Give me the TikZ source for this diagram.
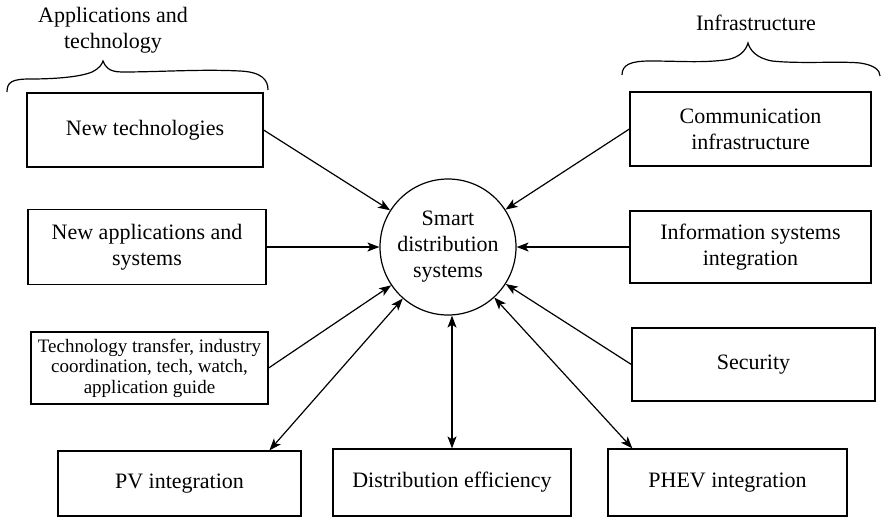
\documentclass[tikz,border=0pt]{standalone}
\usepackage{fontspec}
\setmainfont{Liberation Serif}
\usetikzlibrary{arrows.meta,calc}
\begin{document}
\begin{tikzpicture}[x=1pt,y=-1pt,
  mainfont/.style={font=\fontsize{22}{26}\selectfont},
  box/.style={draw,line width=1.2pt,align=center,inner sep=2pt,mainfont},
  smallbox/.style={draw,line width=1.2pt,align=center,inner sep=2pt,font=\fontsize{19}{20.5}\selectfont},
  hub/.style={draw,circle,line width=1.2pt,minimum size=136pt,inner sep=0pt,align=center,mainfont},
  lbl/.style={align=center,inner sep=0pt,mainfont},
  arr/.style={line width=1.2pt,-{Stealth[length=12pt,width=9pt,inset=3pt]}},
  darr/.style={line width=1.2pt,{Stealth[length=12pt,width=9pt,inset=3pt]}-{Stealth[length=12pt,width=9pt,inset=3pt]}},
  brace/.style={line width=1.2pt}
]
\useasboundingbox (0,0) rectangle (882,523);

% titles
\node[lbl] (apptitle) at (113,30.5) {Applications and\\technology};
\node[lbl] (infratitle) at (756,23) {Infrastructure};

% braces
\draw[brace] (7,92) .. controls (7,82) and (12,79) .. (30,79)
  .. controls (55,79) and (80,77) .. (92,72)
  .. controls (100,68) and (102,64) .. (103,61)
  .. controls (105,66) and (108,72) .. (122,72)
  .. controls (160,72) and (200,69) .. (240,71)
  .. controls (262,72) and (268,80) .. (268,90);
\draw[brace] (622,75) .. controls (622,65) and (630,61) .. (650,61)
  .. controls (680,61) and (700,63) .. (725,60)
  .. controls (740,58) and (746,50) .. (748,43)
  .. controls (750,50) and (756,58) .. (772,61)
  .. controls (800,64) and (840,61) .. (860,63)
  .. controls (874,65) and (880,70) .. (880,76);

% hub
\node[hub] (circ) at (448,247) {Smart\\distribution\\systems};

% left boxes
\node[box,minimum width=236pt,minimum height=74pt] (ntech) at (145,130) {New technologies};
\node[box,minimum width=238pt,minimum height=75pt] (apps) at (147,247) {New applications and\\systems};
\node[smallbox,minimum width=237pt,minimum height=72pt] (tt) at (149.5,368) {Technology transfer, industry\\coordination, tech, watch,\\application guide};

% right boxes
\node[box,minimum width=241pt,minimum height=74pt] (comm) at (750.5,129) {Communication\\infrastructure};
\node[box,minimum width=241pt,minimum height=72pt] (info) at (750.5,247) {Information systems\\integration};
\node[box,minimum width=243pt,minimum height=73pt] (sec) at (753.5,364.5) {Security};

% bottom boxes
\node[box,minimum width=243pt,minimum height=65pt] (pv) at (179.5,483.5) {PV integration};
\node[box,minimum width=238pt,minimum height=67pt] (dist) at (452,482.5) {Distribution efficiency};
\node[box,minimum width=239pt,minimum height=67pt] (phev) at (727.5,482.5) {PHEV integration};

% connectors
\draw[arr] (ntech.east) -- (circ);
\draw[arr] (apps.east) -- (circ);
\draw[arr] (tt.east) -- (circ);
\draw[arr] (comm.west) -- (circ);
\draw[arr] (info.west) -- (circ);
\draw[arr] (sec.west) -- (circ);
\draw[darr] (circ) -- ($(pv.north west)+(212,0)$);
\draw[darr] (circ.south -| dist.north) -- (dist.north);
\draw[darr] (circ) -- ($(phev.north west)+(25,0)$);
\end{tikzpicture}
\end{document}
